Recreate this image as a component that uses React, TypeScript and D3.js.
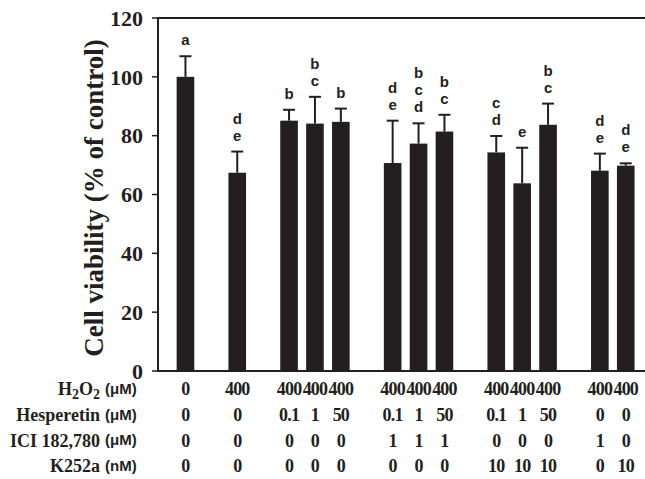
import React from 'react';
import * as d3 from 'd3';

// bar groups, gaps between groups are kept as empty slots
const groups = [[0], [1], [2, 3, 4], [5, 6, 7], [8, 9, 10], [11, 12]];
const means = [100, 67.4, 85.1, 84.1, 84.7, 70.7, 77.3, 81.4, 74.3, 63.8, 83.7, 68.1, 69.8];
const errors = [7, 7.2, 3.7, 9.1, 4.5, 14.4, 6.9, 5.7, 5.6, 12.1, 7.2, 5.8, 0.8];
const letters = [['a'], ['d', 'e'], ['b'], ['b', 'c'], ['b'], ['d', 'e'], ['b', 'c', 'd'], ['b', 'c'], ['c', 'd'], ['e'], ['b', 'c'], ['d', 'e'], ['d', 'e']];

const h2o2 = ['0', '400', '400', '400', '400', '400', '400', '400', '400', '400', '400', '400', '400'];
const hesperetin = ['0', '0', '0.1', '1', '50', '0.1', '1', '50', '0.1', '1', '50', '0', '0'];
const ici = ['0', '0', '0', '0', '0', '1', '1', '1', '0', '0', '0', '1', '0'];
const k252a = ['0', '0', '0', '0', '0', '0', '0', '0', '10', '10', '10', '0', '10'];
const yTicks = [0, 20, 40, 60, 80, 100, 120];

const rows = [
  { label: 'H2O2', unit: '(\u03bcM)', values: h2o2 },
  { label: 'Hesperetin', unit: '(\u03bcM)', values: hesperetin },
  { label: 'ICI 182,780', unit: '(\u03bcM)', values: ici },
  { label: 'K252a', unit: '(nM)', values: k252a }
];

const W = 645, H = 479;
const margin = { left: 158, top: 18, bottom: 371 };
const serif = '"Liberation Serif", "Times New Roman", serif';
const sans = '"Liberation Sans", Arial, sans-serif';
const ink = '#231f20';

export default function App() {
  // build slot domain with a spacer between groups
  let slots: string[] = [];
  groups.forEach((g, gi) => {
    if (gi > 0) slots.push('gap' + gi);
    g.forEach(i => slots.push('bar' + i));
  });
  const x = d3.scaleBand().domain(slots).range([172.5, 638.7]).paddingInner(0.32).paddingOuter(0.16);
  const y = d3.scaleLinear().domain([0, 120]).range([margin.bottom, margin.top]);
  const bw = x.bandwidth();
  const cx = (i: number) => (x('bar' + i) as number) + bw / 2;

  return (
    <svg width={W} height={H} style={{ position: 'absolute', left: 0, top: 0, background: '#fff' }}>
      {/* frame */}
      <line x1={margin.left} x2={W} y1={margin.top} y2={margin.top} stroke={ink} strokeWidth={2} />
      <line x1={margin.left} x2={margin.left} y1={margin.top - 1} y2={margin.bottom + 1} stroke={ink} strokeWidth={2} />
      <line x1={margin.left} x2={W} y1={margin.bottom} y2={margin.bottom} stroke={ink} strokeWidth={2} />

      {yTicks.map(t => (
        <g key={t}>
          <line x1={margin.left - 6} x2={margin.left} y1={y(t)} y2={y(t)} stroke={ink} strokeWidth={1.5} />
          <text x={143} y={y(t)} dy="0.35em" textAnchor="end" fontFamily={serif} fontWeight="bold" fontSize={22} fill={ink}>
            {t}
          </text>
        </g>
      ))}

      <text
        transform={`translate(103, 198) rotate(-90)`}
        textAnchor="middle"
        fontFamily={serif}
        fontWeight="bold"
        fontSize={27}
        fill={ink}
      >
        Cell viability (% of control)
      </text>

      {means.map((m, i) => {
        const c = cx(i);
        const top = y(m + errors[i]);
        return (
          <g key={i}>
            <rect x={x('bar' + i)} y={y(m)} width={bw} height={y(0) - y(m)} fill={ink} />
            <line x1={c} x2={c} y1={y(m)} y2={top} stroke={ink} strokeWidth={2} />
            <line x1={c - 6} x2={c + 6} y1={top} y2={top} stroke={ink} strokeWidth={2} />
            {letters[i].map((l, j) => (
              <text
                key={j}
                x={c}
                y={top - 11 - (letters[i].length - 1 - j) * 17}
                textAnchor="middle"
                fontFamily={sans}
                fontWeight="bold"
                fontSize={15}
                fill={ink}
              >
                {l}
              </text>
            ))}
          </g>
        );
      })}

      {rows.map((r, ri) => {
        const ry = 389 + ri * 25.6;
        return (
          <g key={r.label}>
            <text x={100} y={ry} dy="0.35em" textAnchor="end" fontFamily={serif} fontWeight="bold" fontSize={18} fill={ink}>
              {r.label === 'H2O2' ? (
                <>
                  H<tspan fontSize={14} dy="4">2</tspan>
                  <tspan dy="-4">O</tspan>
                  <tspan fontSize={14} dy="4">2</tspan>
                </>
              ) : (
                r.label
              )}
            </text>
            <text x={105} y={ry} dy="0.35em" fontFamily={sans} fontWeight="bold" fontSize={15} fill={ink}>
              {r.unit}
            </text>
            {r.values.map((v, i) => (
              <text
                key={i}
                x={cx(i)}
                y={ry}
                dy="0.35em"
                textAnchor="middle"
                fontFamily={serif}
                fontWeight="bold"
                fontSize={18}
                letterSpacing={-0.8}
                fill={ink}
              >
                {v}
              </text>
            ))}
          </g>
        );
      })}
    </svg>
  );
}
